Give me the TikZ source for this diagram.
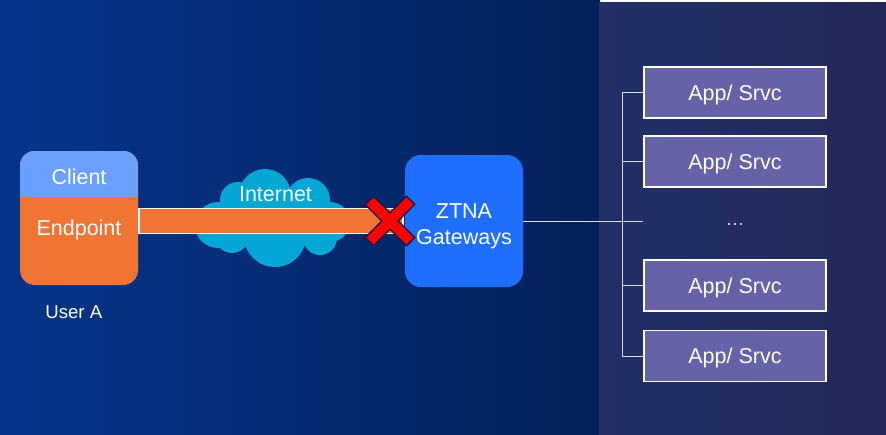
\documentclass[tikz,border=0pt]{standalone}
\usepackage{fontspec}
\setmainfont{Liberation Sans}
\usetikzlibrary{calc}

\definecolor{bgA}{HTML}{07358A}
\definecolor{bgB}{HTML}{03205A}
\definecolor{panelL}{HTML}{223068}
\definecolor{panelR}{HTML}{232858}
\definecolor{clientblue}{HTML}{6AA1FF}
\definecolor{endorange}{HTML}{F07434}
\definecolor{gwblue}{HTML}{1F6FFF}
\definecolor{cloudcyan}{HTML}{04A6D5}
\definecolor{appviolet}{HTML}{6562A8}
\definecolor{xnavy}{HTML}{0D1D4D}
\definecolor{connline}{HTML}{D8DBE8}

\newcommand\labelfont{\fontsize{21.5}{26}\selectfont}
\newcommand\smallfont{\fontsize{18.6}{22}\selectfont}

\tikzset{
  lbl/.style={text=white, font=\labelfont, text height=15.4pt, text depth=0pt, inner sep=0pt},
  smalllbl/.style={text=white, font=\smallfont, text height=13.3pt, text depth=0pt, inner sep=0pt},
  appbox/.style={draw=white, line width=1.6pt, fill=appviolet, minimum width=182.5pt,
    minimum height=51pt, inner sep=0pt, text=white, font=\labelfont, text height=15.4pt, text depth=0pt},
  conn/.style={draw=connline, line width=0.9pt},
  pipe/.style={draw=white, line width=1.5pt, fill=endorange},
}

\begin{document}
\begin{tikzpicture}[x=1pt, y=-1pt]
\useasboundingbox (0,0) rectangle (886,434);

% backdrop
\shade[left color=bgA, right color=bgB] (0,0) rectangle (600,434);
\shade[left color=panelL, right color=panelR] (599,2) rectangle (886,434);

% user endpoint with client layer on top
\node[fill=endorange, rounded corners=15pt, minimum width=118pt, minimum height=134pt, inner sep=0pt] (ep) at (79,218) {};
\begin{scope}
  \clip[rounded corners=15pt] (ep.north west) rectangle (ep.south east);
  \fill[clientblue] (ep.north west) rectangle (138,197);
\end{scope}
\node[lbl] (client) at (79,177) {Client};
\node[lbl] (endpoint) at (79,228) {Endpoint};
\node[smalllbl] (user) at (73.8,312) {User A};

% internet cloud
\fill[cloudcyan]
  (218,225) circle (23)
  (238,200) circle (18)
  (265,195) circle (26)
  (308,200) circle (22)
  (330,222) circle (20)
  (320,238) circle (17)
  (275,236) circle (31)
  (232,236) circle (17)
  (275,218) circle (30);
\node[lbl] (internet) at (275.5,194) {Internet};

% gateway
\node[fill=gwblue, rounded corners=16pt, minimum width=118pt, minimum height=132pt, inner sep=0pt] (gw) at (464,221) {};
\node[lbl] (ztna) at (464,210.5) {ZTNA};
\node[lbl] (gateways) at (464,236.5) {Gateways};

% tunnel from endpoint to gateway
\draw[pipe] ($(ep.east |- gw)+(0.75,-12.5)$) rectangle ($(gw.west)+(-2,12.5)$);

% blocked connection
\coordinate (xmark) at (390,221);
\draw[xnavy, line width=13pt] ($(xmark)+(-21.2,-21.2)$) -- ($(xmark)+(21.2,21.2)$)
                              ($(xmark)+(-21.2,21.2)$) -- ($(xmark)+(21.2,-21.2)$);
\draw[red, line width=10pt] ($(xmark)+(-20,-20)$) -- ($(xmark)+(20,20)$)
                            ($(xmark)+(-20,20)$) -- ($(xmark)+(20,-20)$);

% applications and services
\node[appbox] (app1) at (735,92.5) {App/ Srvc};
\node[appbox] (app2) at (735,161.5) {App/ Srvc};
\node[appbox] (app3) at (735,285.5) {App/ Srvc};
\node[appbox] (app4) at (735,356) {App/ Srvc};
\node[text=connline, font=\fontsize{19}{22}\selectfont, text height=2pt, text depth=0pt, inner sep=0pt] (dots) at (735,224.5) {…};

% fan-out from gateway
\coordinate (fanend) at (643,221);
\draw[conn] (gw.east) -- (fanend);
\draw[conn] (app1.west) -- ++(-21,0) |- (app4.west);
\draw[conn] (app2.west) -- ++(-21,0);
\draw[conn] (app3.west) -- ++(-21,0);
\end{tikzpicture}
\end{document}
